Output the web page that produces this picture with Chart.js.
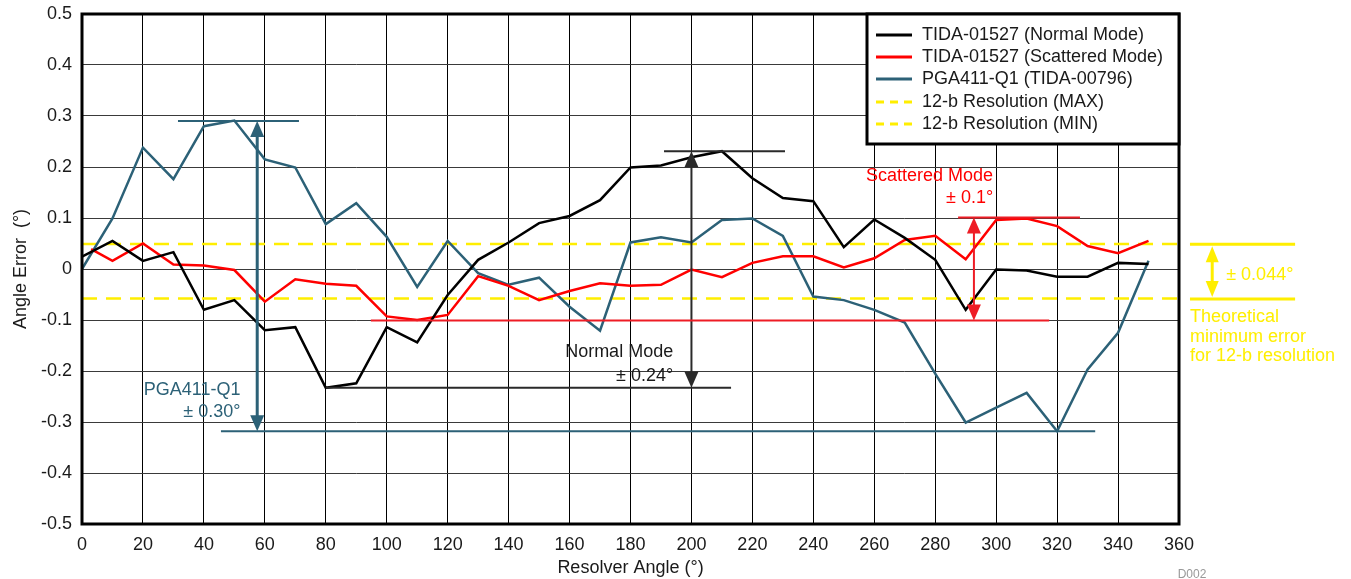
<!DOCTYPE html>
<html>
<head>
<meta charset="utf-8">
<script src="https://cdn.jsdelivr.net/npm/chart.js@4.4.1/dist/chart.umd.min.js"></script>
<style>html,body{margin:0;padding:0;background:#fff}canvas{display:block}</style>
</head>
<body>
<canvas id="c" width="1351" height="579"></canvas>
<script>
// ---------- data ----------
const angles = [0,10,20,30,40,50,60,70,80,90,100,110,120,130,140,150,160,170,180,190,200,210,220,230,240,250,260,270,280,290,300,310,320,330,340,350];
const normalMode = [0.024,0.055,0.016,0.033,-0.080,-0.061,-0.120,-0.114,-0.233,-0.224,-0.114,-0.144,-0.051,0.018,0.052,0.090,0.104,0.135,0.199,0.203,0.219,0.231,0.178,0.139,0.133,0.043,0.097,0.061,0.018,-0.080,-0.001,-0.003,-0.015,-0.015,0.012,0.010];
const scatteredAngles = [3,10,20,30,40,50,60,70,80,90,100,110,120,130,140,150,160,170,180,190,200,210,220,230,240,250,260,270,280,290,300,310,320,330,340,350];
const scatteredMode = [0.039,0.016,0.050,0.009,0.007,-0.002,-0.064,-0.020,-0.029,-0.033,-0.093,-0.100,-0.090,-0.014,-0.033,-0.061,-0.043,-0.028,-0.033,-0.031,-0.001,-0.016,0.012,0.025,0.025,0.003,0.021,0.057,0.065,0.019,0.096,0.099,0.084,0.045,0.031,0.055];
const pga411 = [0.000,0.099,0.238,0.176,0.280,0.291,0.215,0.199,0.088,0.129,0.063,-0.035,0.055,-0.008,-0.031,-0.017,-0.074,-0.121,0.052,0.062,0.052,0.096,0.099,0.065,-0.054,-0.061,-0.080,-0.105,-0.205,-0.301,-0.272,-0.243,-0.318,-0.197,-0.125,0.016];
const resAngles = [0,360];
const res12Max = [0.049,0.049];
const res12Min = [-0.058,-0.058];
const seriesNames = ['TIDA-01527 (Normal Mode)','TIDA-01527 (Scattered Mode)','PGA411-Q1 (TIDA-00796)','12-b Resolution (MAX)','12-b Resolution (MIN)'];
const xTicks = [0,20,40,60,80,100,120,140,160,180,200,220,240,260,280,300,320,340,360];
const yTicks = [-0.5,-0.4,-0.3,-0.2,-0.1,0,0.1,0.2,0.3,0.4,0.5];
const yTickLabels = ['-0.5','-0.4','-0.3','-0.2','-0.1','0','0.1','0.2','0.3','0.4','0.5'];

// ---------- styles ----------
const FONT = '"Liberation Sans", Arial, Helvetica, sans-serif';
const C_BLACK = '#000000', C_RED = '#ff0000', C_BLUE = '#2c6177', C_YEL = '#ffee00';
const C_ANN_BLACK = '#2a2a2a', C_ANN_RED = '#ee1c25';
const DASH = [15, 9];

const pts = (xs, ys) => xs.map((x, i) => ({x, y: ys[i]}));

// annotation definitions in data units
const brackets = [
  {color: C_BLUE, x: 57.5, top: 0.290, bottom: -0.318, topLine: [31.5, 71.2], bottomLine: [45.6, 332.5], lw: 3, lineW: 2,
   text: ['PGA411-Q1', '± 0.30°'], textX: 52.0, textY: [-0.237, -0.280], textColor: C_BLUE},
  {color: C_ANN_BLACK, x: 200.0, top: 0.231, bottom: -0.233, topLine: [191, 230.7], bottomLine: [80, 213], lw: 2, lineW: 2,
   text: ['Normal Mode', '± 0.24°'], textX: 194.0, textY: [-0.163, -0.210], textColor: '#1a1a1a'},
  {color: C_ANN_RED, x: 292.7, top: 0.101, bottom: -0.101, topLine: [287.5, 327.5], bottomLine: [94.8, 317.4], lw: 2, lineW: 2,
   text: ['Scattered Mode', '± 0.1°'], textX: 299.0, textY: [0.182, 0.139], textColor: C_RED}
];
const sideNote = {top: 0.0484, bottom: -0.0588, line: [363.6, 398.1], x: 370.9,
  label: '± 0.044°', labelX: 375.5, labelY: -0.0118,
  lines: ['Theoretical', 'minimum error', 'for 12-b resolution'], linesX: 363.6, linesY: [-0.094, -0.133, -0.171]};

function arrowHead(ctx, x, tipY, dir, w, h) {
  ctx.beginPath();
  ctx.moveTo(x, tipY);
  ctx.lineTo(x - w / 2, tipY + dir * h);
  ctx.lineTo(x + w / 2, tipY + dir * h);
  ctx.closePath();
  ctx.fill();
}

const annotPlugin = {
  id: 'annot',
  afterDatasetsDraw(chart) {
    const ctx = chart.ctx, xs = chart.scales.x, ys = chart.scales.y;
    const X = v => xs.getPixelForValue(v), Y = v => ys.getPixelForValue(v);
    ctx.save();
    brackets.forEach(b => {
      ctx.strokeStyle = b.color; ctx.fillStyle = b.color;
      ctx.lineWidth = b.lineW;
      ctx.beginPath();
      ctx.moveTo(X(b.topLine[0]), Y(b.top)); ctx.lineTo(X(b.topLine[1]), Y(b.top));
      ctx.moveTo(X(b.bottomLine[0]), Y(b.bottom)); ctx.lineTo(X(b.bottomLine[1]), Y(b.bottom));
      ctx.stroke();
      ctx.lineWidth = b.lw;
      ctx.beginPath();
      ctx.moveTo(X(b.x), Y(b.top) + 10); ctx.lineTo(X(b.x), Y(b.bottom) - 10);
      ctx.stroke();
      arrowHead(ctx, X(b.x), Y(b.top), 1, 14, 16);
      arrowHead(ctx, X(b.x), Y(b.bottom), -1, 14, 16);
      ctx.fillStyle = b.textColor;
      ctx.font = '18px ' + FONT;
      ctx.textAlign = 'right'; ctx.textBaseline = 'middle';
      b.text.forEach((t, i) => ctx.fillText(t, X(b.textX), Y(b.textY[i])));
    });
    const a = chart.chartArea;
    ctx.strokeStyle = '#000'; ctx.lineWidth = 3;
    ctx.strokeRect(a.left, a.top, a.right - a.left, a.bottom - a.top);
    ctx.strokeStyle = C_YEL; ctx.fillStyle = C_YEL; ctx.lineWidth = 3;
    ctx.beginPath();
    ctx.moveTo(X(sideNote.line[0]), Y(sideNote.top)); ctx.lineTo(X(sideNote.line[1]), Y(sideNote.top));
    ctx.moveTo(X(sideNote.line[0]), Y(sideNote.bottom)); ctx.lineTo(X(sideNote.line[1]), Y(sideNote.bottom));
    ctx.stroke();
    ctx.beginPath();
    ctx.moveTo(X(sideNote.x), Y(sideNote.top) + 10); ctx.lineTo(X(sideNote.x), Y(sideNote.bottom) - 10);
    ctx.stroke();
    arrowHead(ctx, X(sideNote.x), Y(sideNote.top) + 2, 1, 13, 16);
    arrowHead(ctx, X(sideNote.x), Y(sideNote.bottom) - 2, -1, 13, 16);
    ctx.font = '18px ' + FONT; ctx.textAlign = 'left'; ctx.textBaseline = 'middle';
    ctx.fillText(sideNote.label, X(sideNote.labelX), Y(sideNote.labelY));
    sideNote.lines.forEach((t, i) => ctx.fillText(t, X(sideNote.linesX), Y(sideNote.linesY[i])));
    ctx.restore();
  },
  afterDraw(chart) {
    const ctx = chart.ctx, a = chart.chartArea;
    ctx.save();
    const bx = 867, by = a.top, bw = a.right - bx, bh = 130;
    ctx.fillStyle = '#fff';
    ctx.fillRect(bx, by, bw, bh);
    ctx.strokeStyle = '#000'; ctx.lineWidth = 3;
    ctx.strokeRect(bx, by, bw, bh);
    const cols = [C_BLACK, C_RED, C_BLUE, C_YEL, C_YEL];
    const dashed = [false, false, false, true, true];
    const rows = [35, 57, 79, 102, 124];
    ctx.font = '18px ' + FONT; ctx.textBaseline = 'middle'; ctx.textAlign = 'left';
    seriesNames.forEach((n, i) => {
      ctx.strokeStyle = cols[i]; ctx.lineWidth = 3;
      ctx.setLineDash(dashed[i] ? [8, 6] : []);
      ctx.beginPath(); ctx.moveTo(876, rows[i]); ctx.lineTo(912, rows[i]); ctx.stroke();
      ctx.setLineDash([]);
      ctx.fillStyle = '#1a1a1a';
      ctx.fillText(n, 922, rows[i]);
    });
    ctx.font = '12px ' + FONT; ctx.fillStyle = '#999'; ctx.textAlign = 'center'; ctx.textBaseline = 'top';
    ctx.fillText('D002', 1192, 569);
    ctx.restore();
  }
};

new Chart(document.getElementById('c'), {
  type: 'line',
  data: {
    datasets: [
      {label: seriesNames[0], data: pts(angles, normalMode), borderColor: C_BLACK, borderWidth: 2.5},
      {label: seriesNames[1], data: pts(scatteredAngles, scatteredMode), borderColor: C_RED, borderWidth: 2.5},
      {label: seriesNames[2], data: pts(angles, pga411), borderColor: C_BLUE, borderWidth: 2.5},
      {label: seriesNames[3], data: pts(resAngles, res12Max), borderColor: C_YEL, borderWidth: 2.5, borderDash: DASH},
      {label: seriesNames[4], data: pts(resAngles, res12Min), borderColor: C_YEL, borderWidth: 2.5, borderDash: DASH}
    ]
  },
  options: {
    responsive: false,
    animation: false,
    devicePixelRatio: 1,
    layout: {padding: {top: 14, right: 172, bottom: 0, left: 0}},
    elements: {point: {radius: 0}, line: {tension: 0, fill: false}},
    plugins: {legend: {display: false}, tooltip: {enabled: false}},
    scales: {
      x: {
        type: 'linear', min: 0, max: 360,
        afterBuildTicks: s => { s.ticks = xTicks.map(v => ({value: v})); },
        afterFit: s => { s.height = 55; s.paddingLeft = 0; s.paddingRight = 0; },
        ticks: {font: {family: FONT, size: 18}, color: '#1a1a1a', padding: 10, maxRotation: 0, autoSkip: false,
          callback: v => String(v)},
        grid: {color: '#000', lineWidth: 1, drawTicks: false},
        border: {display: false},
        title: {display: true, text: 'Resolver Angle (°)', color: '#1a1a1a', font: {family: FONT, size: 18}, padding: {top: 0, bottom: 0}}
      },
      y: {
        type: 'linear', min: -0.5, max: 0.5,
        afterBuildTicks: s => { s.ticks = yTicks.map(v => ({value: v})); },
        afterFit: s => { s.width = 82; s.paddingTop = 0; s.paddingBottom = 0; },
        ticks: {font: {family: FONT, size: 18}, color: '#1a1a1a', padding: 10, autoSkip: false,
          callback: (v, i) => yTickLabels[i]},
        grid: {color: '#3a3a3a', lineWidth: 1, drawTicks: false},
        border: {display: false},
        title: {display: true, text: 'Angle Error  (°)', color: '#1a1a1a', font: {family: FONT, size: 18}, padding: {top: 10, bottom: 0}}
      }
    }
  },
  plugins: [annotPlugin]
});
</script>
</body>
</html>
